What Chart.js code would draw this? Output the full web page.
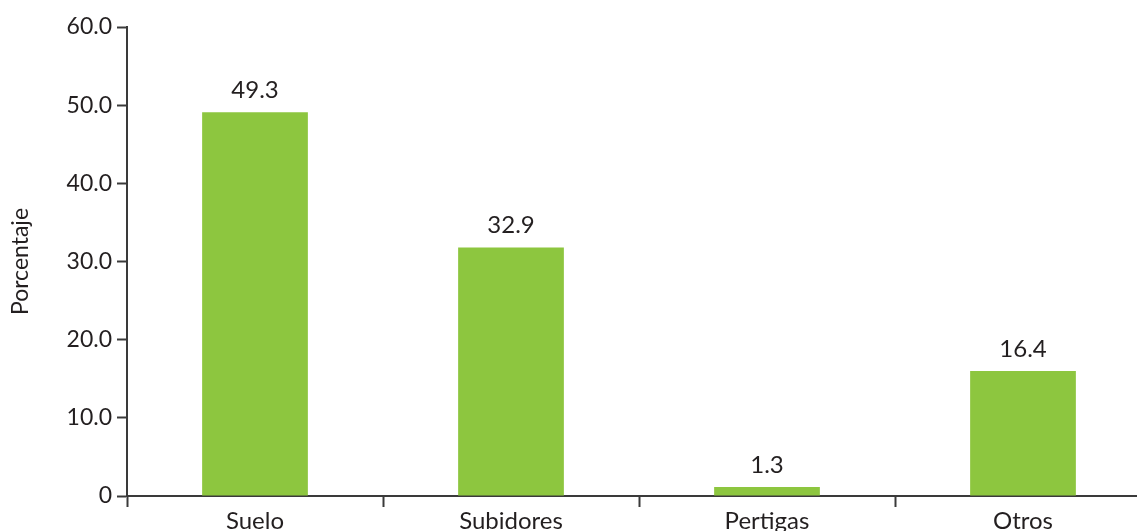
<!DOCTYPE html>
<html>
<head>
<meta charset="utf-8">
<script src="https://cdn.jsdelivr.net/npm/chart.js@4/dist/chart.umd.min.js"></script>
<style>
  html, body { margin: 0; padding: 0; background: #fff; overflow: hidden; }
  #wrap { width: 1151px; height: 560px; }
</style>
</head>
<body>
<div id="wrap"><canvas id="chart" width="1151" height="560"></canvas></div>
<script>
// Categories and values
const categories = ['Suelo', 'Subidores', 'Pertigas', 'Otros'];
// bar heights as drawn in the reference
const barValues = [49.1, 31.8, 1.15, 16.0];
// printed value labels above each bar
const valueLabels = ['49.3', '32.9', '1.3', '16.4'];
const yTicks = [0, 10, 20, 30, 40, 50, 60];

const textColor = '#231f20';
const axisColor = '#3a3a3a';
const fontFamily = 'Lato, "Open Sans", sans-serif';

// draw printed labels above bars
const valueLabelPlugin = {
    id: 'valueLabels',
    afterDatasetsDraw(chart) {
        const ctx = chart.ctx;
        const meta = chart.getDatasetMeta(0);
        ctx.save();
        ctx.font = '24px ' + fontFamily;
        ctx.fillStyle = textColor;
        ctx.textAlign = 'center';
        ctx.textBaseline = 'alphabetic';
        meta.data.forEach((bar, i) => {
            ctx.fillText(valueLabels[i], bar.x, bar.y - 14);
        });
        ctx.restore();
    }
};

new Chart(document.getElementById('chart'), {
    type: 'bar',
    data: {
        labels: categories,
        datasets: [{
            data: barValues,
            backgroundColor: '#8dc63f',
            borderWidth: 0,
            barPercentage: 0.413,
            categoryPercentage: 1
        }]
    },
    options: {
        responsive: false,
        animation: false,
        events: [],
        layout: { padding: { top: 27, left: 0, right: 0, bottom: 0 } },
        plugins: {
            legend: { display: false },
            tooltip: { enabled: false }
        },
        scales: {
            x: {
                offset: true,
                afterFit: s => { s.height = 64; },
                grid: {
                    offset: true,
                    drawOnChartArea: false,
                    drawTicks: true,
                    tickLength: 11,
                    tickWidth: 2,
                    color: axisColor
                },
                border: { color: axisColor, width: 2 },
                ticks: {
                    color: textColor,
                    padding: 0,
                    font: { family: fontFamily, size: 24 }
                }
            },
            y: {
                min: 0,
                max: 60,
                afterFit: s => { s.width = 127; },
                afterBuildTicks: s => { s.ticks = yTicks.map(v => ({ value: v })); },
                grid: {
                    drawOnChartArea: false,
                    drawTicks: true,
                    tickLength: 10,
                    tickWidth: 2,
                    color: axisColor
                },
                border: { color: axisColor, width: 2 },
                ticks: {
                    color: textColor,
                    padding: 5,
                    font: { family: fontFamily, size: 23 },
                    callback: v => v === 0 ? '0' : v.toFixed(1)
                },
                title: {
                    display: true,
                    text: 'Porcentaje',
                    color: textColor,
                    padding: { top: 7, bottom: 0 },
                    font: { family: fontFamily, size: 23 }
                }
            }
        }
    },
    plugins: [valueLabelPlugin]
});
</script>
</body>
</html>
